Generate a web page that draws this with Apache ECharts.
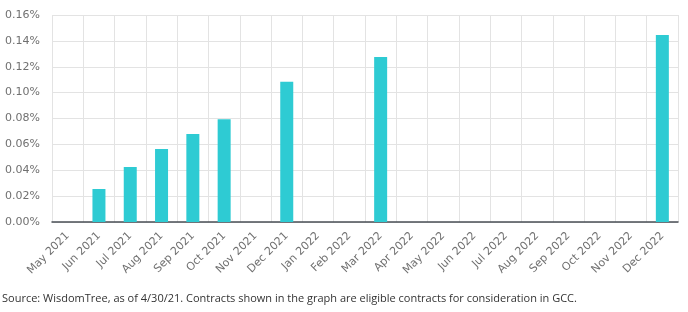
<!DOCTYPE html>
<html lang="en">
  <head>
    <meta charset="UTF-8" />
    <title>GCC contracts</title>
    <script src="https://cdnjs.cloudflare.com/ajax/libs/echarts/6.0.0/echarts.min.js"></script>
    <style>
      body { margin: 0; background: #fff; }
      #main { width: 688px; height: 312px; }
    </style>
  </head>
  <body>
    <div id="main"></div>
    <script>
      // months on the axis
      var months = [
        "May 2021", "Jun 2021", "Jul 2021", "Aug 2021", "Sep 2021", "Oct 2021",
        "Nov 2021", "Dec 2021", "Jan 2022", "Feb 2022", "Mar 2022", "Apr 2022",
        "May 2022", "Jun 2022", "Jul 2022", "Aug 2022", "Sep 2022", "Oct 2022",
        "Nov 2022", "Dec 2022"
      ];
      // values in percent, null = no contract
      var values = [
        null, 0.0255, 0.0425, 0.0565, 0.068, 0.0795,
        null, 0.1085, null, null, 0.1275, null,
        null, null, null, null, null, null,
        null, 0.1445
      ];
      var sourceText = "Source: WisdomTree, as of 4/30/21. Contracts shown in the graph are eligible contracts for consideration in GCC.";

      var myChart = echarts.init(document.getElementById("main"));
      var option = {
        animation: false,
        grid: { left: 52, right: 10, top: 15, bottom: 90 },
        xAxis: {
          type: "category",
          data: months,
          axisLine: { lineStyle: { color: "#4a4f55", width: 1.5 } },
          axisTick: { show: false },
          splitLine: { show: true, lineStyle: { color: "#e3e3e3", width: 1 } },
          axisLabel: {
            interval: 0,
            rotate: 45,
            color: "#707070",
            fontSize: 11,
            fontFamily: "DejaVu Sans",
            margin: 12
          }
        },
        yAxis: {
          type: "value",
          min: 0,
          max: 0.16,
          interval: 0.02,
          axisLine: { show: false },
          axisTick: { show: false },
          splitLine: { lineStyle: { color: "#e3e3e3", width: 1 } },
          axisLabel: {
            color: "#707070",
            fontSize: 11,
            fontFamily: "DejaVu Sans",
            margin: 12
          ,
            formatter: function (v) { return v.toFixed(2) + "%"; }
          }
        },
        series: [
          {
            type: "bar",
            data: values,
            barWidth: 13,
            itemStyle: { color: "#2ecbd3" }
          }
        ],
        graphic: [
          {
            type: "text",
            left: 2,
            top: 293,
            style: {
              text: sourceText,
              fill: "#333",
              font: "11px 'Open Sans'"
            }
          }
        ]
      };
      myChart.setOption(option);
    </script>
  </body>
</html>
